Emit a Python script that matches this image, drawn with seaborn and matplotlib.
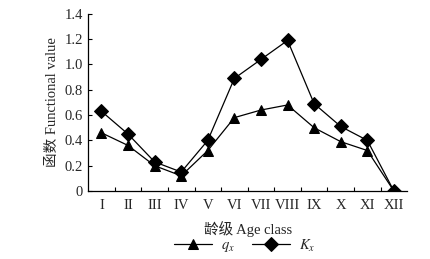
import numpy as np
import pandas as pd
import matplotlib
matplotlib.use("Agg")
import matplotlib.pyplot as plt
import seaborn as sns

AGE_CLASSES = ["I", "II", "III", "IV", "V", "VI", "VII", "VIII", "IX", "X", "XI", "XII"]
QX = [0.46, 0.36, 0.20, 0.12, 0.32, 0.58, 0.64, 0.68, 0.50, 0.39, 0.32, 0.0]
KX = [0.63, 0.45, 0.23, 0.15, 0.40, 0.89, 1.04, 1.19, 0.69, 0.51, 0.40, 0.0]
Y_TICKS = [0, 0.2, 0.4, 0.6, 0.8, 1.0, 1.2, 1.4]
Y_TICK_LABELS = ["0", "0.2", "0.4", "0.6", "0.8", "1.0", "1.2", "1.4"]

sns.set_theme(style="white")
plt.rcParams["font.family"] = ["Liberation Serif", "Noto Sans CJK SC"]
plt.rcParams["mathtext.fontset"] = "stix"

df = pd.DataFrame({
    "x": list(range(len(AGE_CLASSES))) * 2,
    "value": QX + KX,
    "series": ["$q_x$"] * len(QX) + ["$K_x$"] * len(KX),
})

fig = plt.figure(figsize=(4.3, 2.59), dpi=100)
ax = fig.add_axes([0.205, 0.2625, 0.742, 0.684])

sns.lineplot(data=df, x="x", y="value", hue="series", style="series",
             palette=["black", "black"], markers={"$q_x$": "^", "$K_x$": "D"},
             dashes=False, markersize=7, linewidth=0.9, markeredgecolor="black",
             ax=ax, legend=True)

ax.set_xlim(-0.5, len(AGE_CLASSES) - 0.5)
ax.set_ylim(0, 1.4)
ax.set_xticks(range(len(AGE_CLASSES)))
ax.set_xticklabels(AGE_CLASSES, fontsize=10.5)
ax.set_xticks(np.arange(0.5, len(AGE_CLASSES) - 0.5, 1), minor=True)
ax.tick_params(axis="x", which="major", length=0, pad=6)
ax.tick_params(axis="x", which="minor", direction="in", length=3, width=0.8, color="black", bottom=True)
ax.set_yticks(Y_TICKS)
ax.set_yticklabels(Y_TICK_LABELS, fontsize=10.5)
ax.tick_params(axis="y", direction="in", length=3, width=0.8, color="black", left=True, pad=4)

for s in ["top", "right"]:
    ax.spines[s].set_visible(False)
for s in ["left", "bottom"]:
    ax.spines[s].set_color("black")
    ax.spines[s].set_linewidth(0.9)

ax.set_xlabel("龄级 Age class", fontsize=10.5, labelpad=6)
ax.set_ylabel("函数 Functional value", fontsize=10.5, labelpad=4)

ax.legend(title=None, loc="center", bbox_to_anchor=(0.49, -0.31), ncol=2,
          frameon=False, fontsize=10.5, handlelength=2.6, columnspacing=1.2,
          handletextpad=0.6, borderpad=0)

fig.savefig("out.png", dpi=100, facecolor="white")
